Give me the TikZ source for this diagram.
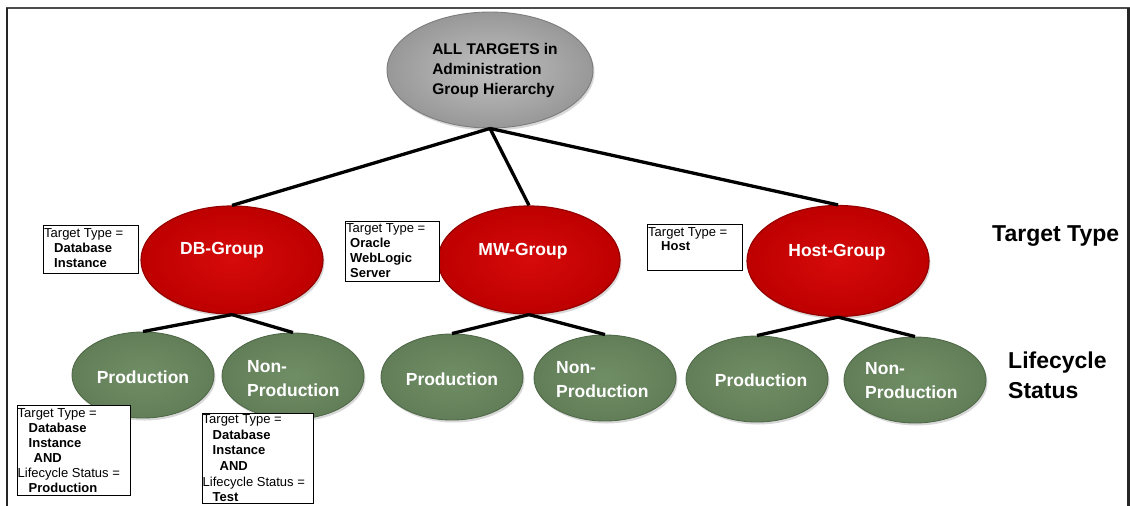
\documentclass[tikz,border=0pt]{standalone}
\usepackage{fontspec}
\setmainfont{Liberation Sans}
\usetikzlibrary{shapes.geometric,shadows}
\definecolor{redin}{RGB}{214,10,10}
\definecolor{redout}{RGB}{190,0,0}
\definecolor{redrim}{RGB}{150,0,0}
\definecolor{greenin}{RGB}{112,142,102}
\definecolor{greenout}{RGB}{98,126,88}
\definecolor{greenrim}{RGB}{80,105,72}
\definecolor{greyin}{RGB}{192,192,192}
\definecolor{greyout}{RGB}{152,152,152}
\definecolor{greyrim}{RGB}{125,125,125}
\begin{document}
\begin{tikzpicture}[x=1pt,y=-1pt,
 ell/.style={ellipse, inner sep=0pt, drop shadow={opacity=0.3,shadow xshift=1.5pt,shadow yshift=-2.5pt}},
 redell/.style={ell, inner color=redin, outer color=redout, draw=redrim, line width=1.2pt, minimum width=182pt, minimum height=108pt},
 greenell/.style={ell, inner color=greenin, outer color=greenout, draw=greenrim, line width=0.9pt, minimum width=142pt, minimum height=86pt},
 wlabel/.style={text=white, font=\bfseries\fontsize{17.5}{24}\selectfont, align=left, inner sep=0pt},
 conn/.style={line width=3.3pt, black},
 box/.style={draw=black, line width=1.1pt, fill=white, inner sep=0pt, anchor=north west},
 boxtext/.style={anchor=north west, inner sep=0pt, align=left, font=\fontsize{13}{15}\selectfont},
 side/.style={font=\bfseries\fontsize{23}{30}\selectfont, align=left, inner sep=0pt, anchor=west}
]
\useasboundingbox (0,0) rectangle (1130,506);
\fill[white] (0,0) rectangle (1130,506);
% frame
\draw[line width=2pt, black!70] (6,8) -- (1130,8);
\draw[line width=2pt, black!85] (7,8) -- (7,506);
\draw[line width=3pt, black!85] (1128.5,8) -- (1128.5,506);

% top node
\node[ell, inner color=greyin, outer color=greyout, draw=greyrim, line width=0.9pt, minimum width=206pt, minimum height=116pt] (top) at (490,70) {};
\node[align=left, font=\bfseries\fontsize{15.5}{20}\selectfont, inner sep=0pt] (toptext) at (495,70) {ALL TARGETS in\\Administration\\Group Hierarchy};

% group nodes
\node[redell] (db) at (232,260) {};
\node[redell] (mw) at (529,260) {};
\node[redell, minimum height=111pt] (host) at (838,261) {};
\node[wlabel] (dbt) at (222,250) {DB-Group};
\node[wlabel] (mwt) at (523,251) {MW-Group};
\node[wlabel] (hostt) at (837,252) {Host-Group};

% lifecycle nodes
\node[greenell] (p1) at (143,375) {};
\node[greenell] (n1) at (293,376) {};
\node[greenell] (p2) at (452,377) {};
\node[greenell] (n2) at (605,378) {};
\node[greenell] (p3) at (757,379) {};
\node[greenell] (n3) at (915,380) {};
\node[wlabel] (p1t) at (143,377) {Production};
\node[wlabel, anchor=west] (n1t) at (247,379) {Non-\\Production};
\node[wlabel] (p2t) at (452,379) {Production};
\node[wlabel, anchor=west] (n2t) at (556,380) {Non-\\Production};
\node[wlabel] (p3t) at (761,380) {Production};
\node[wlabel, anchor=west] (n3t) at (865,381) {Non-\\Production};

% connectors
\draw[conn] (top.south) -- (db.north);
\draw[conn] (top.south) -- (mw.north);
\draw[conn] (top.south) -- (host.north);
\draw[conn] (db.south) -- (p1.north);
\draw[conn] (db.south) -- (n1.north);
\draw[conn] (mw.south) -- (p2.north);
\draw[conn] (mw.south) -- (n2.north);
\draw[conn] (host.south) -- (p3.north);
\draw[conn] (host.south) -- (n3.north);

% boxes
\node[box, minimum width=95pt, minimum height=48pt] (dbbox) at (43,225) {};
\node[boxtext] (dbboxt) at ([shift={(1,3)}]dbbox.north west) {Target Type =\\\hspace*{10pt}\textbf{Database}\\\hspace*{10pt}\textbf{Instance}};

\node[box, minimum width=94pt, minimum height=60pt] (mwbox) at (345,221) {};
\node[boxtext] (mwboxt) at ([shift={(1,2)}]mwbox.north west) {Target Type =\\\hspace*{4pt}\textbf{Oracle}\\\hspace*{4pt}\textbf{WebLogic}\\\hspace*{4pt}\textbf{Server}};

\node[box, minimum width=95pt, minimum height=46pt] (hostbox) at (647,224) {};
\node[boxtext, font=\fontsize{13}{14}\selectfont] (hostboxt) at ([shift={(1,3)}]hostbox.north west) {Target Type =\\\hspace*{13pt}\textbf{Host}};

\node[box, minimum width=113pt, minimum height=90pt] (pbox) at (17,405) {};
\node[boxtext] (pboxt) at ([shift={(0.5,3)}]pbox.north west) {Target Type =\\\hspace*{11pt}\textbf{Database}\\\hspace*{11pt}\textbf{Instance}\\\hspace*{16pt}\textbf{AND}\\Lifecycle Status =\\\hspace*{11pt}\textbf{Production}};

\node[box, minimum width=111pt, minimum height=90pt] (nbox) at (202,413) {};
\node[boxtext, font=\fontsize{13}{15.6}\selectfont] (nboxt) at ([shift={(0.5,1.5)}]nbox.north west) {Target Type =\\\hspace*{10pt}\textbf{Database}\\\hspace*{10pt}\textbf{Instance}\\\hspace*{17pt}\textbf{AND}\\Lifecycle Status =\\\hspace*{10pt}\textbf{Test}};

% side labels
\node[side] (tt) at (992,236) {Target Type};
\node[side] (ls) at (1008,375) {Lifecycle\\Status};
\end{tikzpicture}
\end{document}
